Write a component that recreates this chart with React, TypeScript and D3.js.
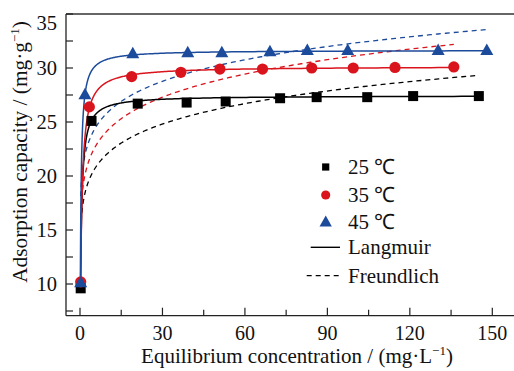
import React from "react";
import * as d3 from "d3";

// Experimental data (equilibrium concentration mg/L, adsorption capacity mg/g)
const concT25 = [0.25, 4.2, 21.0, 38.8, 53.0, 72.8, 86.1, 104.5, 121.2, 145.1];
const qT25 = [9.6, 25.1, 26.7, 26.8, 26.9, 27.2, 27.3, 27.3, 27.4, 27.4];
const concT35 = [0.25, 3.4, 18.8, 36.7, 50.9, 66.4, 84.3, 99.4, 114.6, 136.0];
const qT35 = [10.2, 26.4, 29.2, 29.6, 29.9, 29.9, 30.0, 30.0, 30.05, 30.1];
const concT45 = [0.25, 1.8, 19.2, 39.2, 51.6, 69.1, 82.7, 97.4, 130.3, 148.0];
const qT45 = [10.1, 27.5, 31.3, 31.4, 31.4, 31.5, 31.6, 31.6, 31.6, 31.6];

// Fitted isotherm parameters [25, 35, 45 °C]
const langmuirQm = [27.45, 30.15, 31.65];
const langmuirK = [2.6, 2.0, 3.7];
const freundlichKf = [17.3, 18.84, 20.72];
const freundlichInvN = [0.106, 0.109, 0.0965];

const seriesLabels = ["25 ℃", "35 ℃", "45 ℃"];
const seriesColors = ["#000000", "#d9141c", "#1d4b9c"];
const xTicks = [0, 15, 30, 45, 60, 75, 90, 105, 120, 135, 150];
const xTickLabels = [0, 30, 60, 90, 120, 150];
const yTicks = [7.5, 10, 12.5, 15, 17.5, 20, 22.5, 25, 27.5, 30, 32.5, 35];
const yTickLabels = [10, 15, 20, 25, 30, 35];

const W = 514;
const H = 371;
const FONT = "'Liberation Serif', 'Times New Roman', serif";

export default function App() {
  const x = d3.scaleLinear().domain([0, 150]).range([80, 492.3]);
  const y = d3.scaleLinear().domain([10, 35]).range([284, 14]);
  const left = 66;
  const right = 514;
  const top = 14;
  const bottom = 315.7;

  const concs = [concT25, concT35, concT45];
  const qs = [qT25, qT35, qT45];

  const line = d3
    .line<[number, number]>()
    .x((d) => x(d[0]))
    .y((d) => y(d[1]))
    .curve(d3.curveLinear);

  const sampleC = (c0: number, c1: number) => {
    const pts: number[] = [];
    const n = 300;
    for (let i = 0; i <= n; i++) {
      const t = i / n;
      pts.push(c0 * Math.pow(c1 / c0, t));
    }
    return pts;
  };

  const langmuirPaths = [0, 1, 2].map((i) => {
    const qm = langmuirQm[i];
    const K = langmuirK[i];
    const q0 = qs[i][0];
    const c0 = q0 / (qm - q0) / K;
    const c1 = concs[i][concs[i].length - 1];
    const pts = sampleC(c0, c1).map((c) => [c, (qm * K * c) / (1 + K * c)] as [number, number]);
    return line(pts) || "";
  });

  const freundlichPaths = [0, 1, 2].map((i) => {
    const kf = freundlichKf[i];
    const inv = freundlichInvN[i];
    const c1 = concs[i][concs[i].length - 1];
    const pts = sampleC(0.25, c1).map((c) => [c, kf * Math.pow(c, inv)] as [number, number]);
    return line(pts) || "";
  });

  const marker = (i: number, cx: number, cy: number, key: string, s = 1) => {
    const col = seriesColors[i];
    if (i === 0) {
      const a = 10 * s;
      return <rect key={key} x={cx - a / 2} y={cy - a / 2} width={a} height={a} fill={col} />;
    }
    if (i === 1) {
      return <circle key={key} cx={cx} cy={cy} r={5.6 * s} fill={col} />;
    }
    const w = 13 * s;
    const h = 11.5 * s;
    return (
      <path
        key={key}
        d={`M${cx},${cy - h * 0.62} L${cx + w / 2},${cy + h * 0.38} L${cx - w / 2},${cy + h * 0.38} Z`}
        fill={col}
      />
    );
  };

  const legendX = 325.7;
  const legendTextX = 348;
  const legendYs = [167, 195, 222.3, 247.3, 275.7];

  return (
    <svg
      width={W}
      height={H}
      style={{ position: "absolute", left: 0, top: 0, background: "#fff" }}
      fontFamily={FONT}
    >
      <defs>
        <clipPath id="plotClip">
          <rect x={left} y={top} width={right - left} height={bottom - top} />
        </clipPath>
      </defs>

      {/* Frame */}
      <line x1={left} y1={top} x2={right} y2={top} stroke="#333" strokeWidth={1.3} />
      <line x1={left} y1={top} x2={left} y2={bottom} stroke="#222" strokeWidth={1.3} />
      <line x1={left} y1={bottom} x2={right} y2={bottom} stroke="#222" strokeWidth={1.3} />

      {/* Y ticks */}
      {yTicks.map((t) => (
        <line key={"yt" + t} x1={left} x2={left + 7} y1={y(t)} y2={y(t)} stroke="#222" strokeWidth={1.2} />
      ))}
      {yTickLabels.map((t) => (
        <text
          key={"yl" + t}
          x={57}
          y={(t === 35 ? y(t) + 9 : y(t)) + 7}
          textAnchor="end"
          fontSize={20.5}
          fill="#111"
        >
          {t}
        </text>
      ))}

      {/* X ticks */}
      {xTicks.map((t) => (
        <line
          key={"xt" + t}
          x1={x(t)}
          x2={x(t)}
          y1={bottom}
          y2={bottom - (t % 30 === 0 ? 8 : 6)}
          stroke="#222"
          strokeWidth={1.2}
        />
      ))}
      {xTickLabels.map((t) => (
        <text key={"xl" + t} x={x(t)} y={339.5} textAnchor="middle" fontSize={20} fill="#111">
          {t}
        </text>
      ))}

      {/* Axis titles */}
      <text x={297} y={363} textAnchor="middle" fontSize={21} fill="#111">
        Equilibrium concentration / (mg·L
        <tspan dy={-8} fontSize={13}>−1</tspan>
        <tspan dy={8}>)</tspan>
      </text>
      <text
        transform="translate(27,152) rotate(-90)"
        textAnchor="middle"
        fontSize={21.3}
        fill="#111"
      >
        Adsorption capacity / (mg·g
        <tspan dy={-8} fontSize={13}>−1</tspan>
        <tspan dy={8}>)</tspan>
      </text>

      <g clipPath="url(#plotClip)">
        {freundlichPaths.map((d, i) => (
          <path
            key={"f" + i}
            d={d}
            fill="none"
            stroke={seriesColors[i]}
            strokeWidth={1.3}
            strokeDasharray="5,4"
          />
        ))}
        {langmuirPaths.map((d, i) => (
          <path key={"l" + i} d={d} fill="none" stroke={seriesColors[i]} strokeWidth={1.5} />
        ))}
        {[0, 1, 2].map((i) =>
          concs[i].map((c, j) => marker(i, x(c), y(qs[i][j]), `m${i}-${j}`))
        )}
      </g>

      {/* Legend */}
      {[0, 1, 2].map((i) => (
        <g key={"lg" + i}>
          {marker(i, legendX, legendYs[i], "lm" + i, i === 0 ? 0.72 : i === 1 ? 0.82 : 0.95)}
          <text x={legendTextX} y={legendYs[i] + 7} fontSize={21} fill="#111">
            {seriesLabels[i]}
          </text>
        </g>
      ))}
      <line x1={310.7} x2={340} y1={legendYs[3]} y2={legendYs[3]} stroke="#000" strokeWidth={1.4} />
      <text x={legendTextX} y={legendYs[3] + 7} fontSize={21} fill="#111">
        Langmuir
      </text>
      <line
        x1={306.7}
        x2={340}
        y1={legendYs[4]}
        y2={legendYs[4]}
        stroke="#000"
        strokeWidth={1.3}
        strokeDasharray="5,4"
      />
      <text x={legendTextX} y={legendYs[4] + 7} fontSize={21} fill="#111">
        Freundlich
      </text>
    </svg>
  );
}
